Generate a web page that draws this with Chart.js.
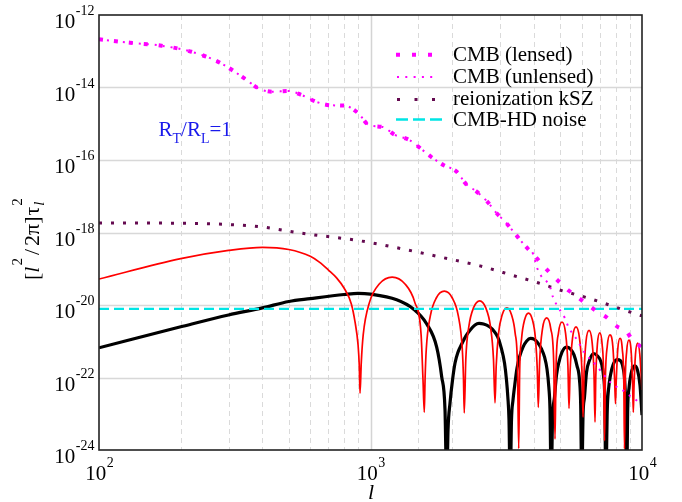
<!DOCTYPE html>
<html>
<head>
<meta charset="utf-8">
<script src="https://cdn.jsdelivr.net/npm/chart.js@4.4.0/dist/chart.umd.min.js"></script>
<style>
  html, body { margin: 0; padding: 0; background: #fff; }
  #wrap { width: 682px; height: 502px; }
</style>
</head>
<body>
<div id="wrap"><canvas id="chart" width="682" height="502"></canvas></div>
<script>
// values: multipole l and [l^2/2pi] tau_l^2

const lensedL = [100, 130, 170, 219, 279, 347, 386, 436, 498, 558, 630, 714, 806, 902, 987, 1112, 1231, 1390, 1522, 1670, 1854, 2078, 2247, 2461, 2693, 2916, 3156, 3415, 3686, 3978, 4282, 4621, 4989, 5398, 5861, 6342, 6844, 7350, 7775, 8178, 8658, 9240, 9830, 10000]
const lensedV = [2.14e-13, 1.72e-13, 1.42e-13, 9.7e-14, 4.83e-14, 1.68e-14, 9.5e-15, 7.66e-15, 8.0e-15, 6.2e-15, 4.06e-15, 3.23e-15, 3.15e-15, 1.94e-15, 9.2e-16, 8.1e-16, 4.9e-16, 3.56e-16, 2.14e-16, 1.23e-16, 7.3e-17, 4.75e-17, 2.18e-17, 1.34e-17, 7.1e-18, 3.39e-18, 1.86e-18, 9.1e-19, 4.52e-19, 2.5e-19, 1.33e-19, 7.2e-20, 4.12e-20, 2.43e-20, 1.53e-20, 1.0e-20, 6.5e-21, 4.75e-21, 3.25e-21, 2.43e-21, 2.04e-21, 1.08e-21, 7.4e-22, 6.5e-22]

const unlensedL = [100, 130, 170, 219, 279, 347, 386, 436, 498, 558, 630, 714, 806, 902, 987, 1112, 1231, 1390, 1522, 1670, 1854, 2078, 2247, 2461, 2693, 2916, 3156, 3415, 3686, 3978, 4094, 4246, 4582, 4694, 4852, 5204, 5352, 5748, 6166, 6769, 7244, 7841, 8298, 9162, 10000]
const unlensedV = [2.14e-13, 1.72e-13, 1.42e-13, 9.7e-14, 4.83e-14, 1.68e-14, 9.5e-15, 7.66e-15, 8.0e-15, 6.2e-15, 4.06e-15, 3.23e-15, 3.15e-15, 1.94e-15, 9.2e-16, 8.1e-16, 4.9e-16, 3.56e-16, 2.14e-16, 1.23e-16, 7.3e-17, 4.75e-17, 2.18e-17, 1.34e-17, 7.1e-18, 3.39e-18, 1.86e-18, 9.1e-19, 4.52e-19, 2.5e-19, 1.14e-19, 6.4e-20, 3.2e-20, 1.7e-20, 1.0e-20, 4.3e-21, 2.52e-21, 1.13e-21, 4.66e-22, 2.21e-22, 1.17e-22, 6.2e-23, 5.0e-23, 2.9e-23, 1.86e-23]

const kszL = [100, 200, 300, 400, 550, 915, 1250, 1865, 2530, 3400, 4140, 5060, 6250, 7580, 9210, 10000]
const kszV = [1.83e-18, 1.8e-18, 1.66e-18, 1.42e-18, 9.7e-19, 5.9e-19, 3.8e-19, 2.0e-19, 1.2e-19, 6.3e-20, 4.1e-20, 2.5e-20, 1.6e-20, 1.0e-20, 6.1e-21, 5.0e-21]

const noiseL = [100, 10000]
const noiseV = [7.8e-21, 7.8e-21]

// thin red curve
const redL = [100, 200, 300, 400, 500, 600, 650, 700, 750, 800, 850, 877, 900, 909, 915,
  925, 940, 992, 1077, 1202, 1340, 1455, 1536, 1561, 1578,
  1589, 1605, 1661, 1747, 1870, 2001, 2106, 2178, 2200, 2215,
  2244, 2304, 2395, 2525, 2659, 2765, 2838, 2875,
  2904, 2964, 3053, 3180, 3309, 3409, 3478, 3515,
  3544, 3602, 3695, 3819, 3948, 4050, 4116, 4150,
  4197, 4300, 4457, 4614, 4729, 4782,
  4826, 4925, 5074, 5227, 5335, 5384,
  5435, 5546, 5714, 5886, 6008, 6065,
  6117, 6221, 6381, 6544, 6656, 6713,
  6758, 6851, 6992, 7129, 7228, 7277,
  7330, 7449, 7620, 7806, 7926, 7987,
  8035, 8145, 8298, 8460, 8570, 8620,
  8672, 8783, 8947, 9119, 9234, 9290,
  9344, 9463, 9643, 9815, 10000]
const redV = [5.2e-20, 1.9e-19, 3.2e-19, 3.9e-19, 3.4e-19, 2.2e-19, 1.5e-19, 9.2e-20, 5.6e-20, 2.9e-20, 1.07e-20, 3.4e-21, 7.9e-22, 2.2e-22, 3.7e-23,
  2.7e-22, 1.5e-21, 1.2e-20, 3.8e-20, 5.9e-20, 3.8e-20, 1.2e-20, 1.5e-21, 8.5e-23, 1.1e-23,
  9.7e-23, 6.1e-22, 5.0e-21, 1.56e-20, 2.4e-20, 1.56e-20, 5.0e-21, 6.1e-22, 9.7e-23, 1.05e-23,
  3.2e-22, 2.6e-21, 8.3e-21, 1.3e-20, 8.3e-21, 2.6e-21, 3.2e-22, 2.0e-23,
  2.1e-22, 1.7e-21, 5.3e-21, 8.3e-21, 5.3e-21, 1.7e-21, 2.1e-22, 1.1e-24,
  1.5e-22, 1.2e-21, 3.9e-21, 6.0e-21, 3.9e-21, 1.2e-21, 1.5e-22, 1.5e-23,
  2.7e-22, 2.2e-21, 4.4e-21, 2.2e-21, 2.7e-22, 2.0e-24,
  2.1e-22, 1.7e-21, 3.4e-21, 1.7e-21, 2.1e-22, 1.4e-23,
  1.5e-22, 1.2e-21, 2.5e-21, 1.2e-21, 1.5e-22, 8.1e-24,
  1.25e-22, 1.0e-21, 2.0e-21, 1.0e-21, 1.25e-22, 5.9e-24,
  1.03e-22, 8.4e-22, 1.7e-21, 8.4e-22, 1.03e-22, 1.8e-24,
  9.1e-23, 7.4e-22, 1.5e-21, 7.4e-22, 9.1e-23, 1.9e-23,
  7.5e-23, 6.1e-22, 1.2e-21, 6.1e-22, 7.5e-23, 1.07e-24,
  6.6e-23, 5.4e-22, 1.08e-21, 5.4e-22, 6.6e-23, 1.1e-23,
  5.5e-23, 4.4e-22, 8.9e-22, 4.4e-22, 4.5e-23]

// thick black curve (zeros fall below the axis)
const blackL = [100, 200, 300, 400, 500, 600, 800, 900, 1000, 1249, 1438, 1611, 1753, 1829, 1881, 1909,
  1930, 1963, 2005, 2048, 2100, 2168, 2247, 2325, 2426, 2510, 2608, 2744, 2851, 2944, 3025, 3116, 3169, 3205, 3237, 3270,
  3306, 3349, 3392, 3464, 3538, 3645, 3755, 3885, 4018, 4139, 4265, 4374, 4468, 4537, 4583, 4630,
  4681, 4762, 4843, 4947, 5074, 5258, 5453, 5618, 5763, 5886, 5946, 6000,
  6065, 6142, 6247, 6407, 6629, 6858, 7063, 7215, 7295, 7357,
  7449, 7524, 7656, 7820, 8090, 8333, 8511, 8641, 8715, 8783,
  8857, 8956, 9110, 9384, 9625, 9831, 10000]
const blackV = [6.6e-22, 2.5e-21, 5.3e-21, 8.3e-21, 1.25e-20, 1.5e-20, 1.95e-20, 2.1e-20, 2.0e-20, 1.4e-20, 7.8e-21, 3.0e-21, 6.9e-22, 1.05e-22, 1.3e-23, 1e-25,
  3.6e-24, 2.0e-23, 8.5e-23, 2.5e-22, 5.0e-22, 8.4e-22, 1.4e-21, 2.0e-21, 2.8e-21, 3.1e-21, 3.0e-21, 2.5e-21, 1.9e-21, 1.3e-21, 6.9e-22, 2.5e-22, 8.5e-23, 2.9e-23, 6.7e-24, 1e-25,
  6.7e-24, 2.4e-23, 5.5e-23, 1.8e-22, 3.7e-22, 6.9e-22, 1.0e-21, 1.2e-21, 1.12e-21, 8.9e-22, 6.1e-22, 3.7e-22, 1.7e-22, 5.5e-23, 1.3e-23, 1e-25,
  6.7e-24, 2.9e-23, 1.17e-22, 2.7e-22, 5.0e-22, 6.9e-22, 6.1e-22, 4.2e-22, 2.1e-22, 8.5e-23, 1.7e-23, 1e-25,
  9.2e-24, 2.9e-23, 1.4e-22, 3.0e-22, 4.6e-22, 3.9e-22, 2.7e-22, 1.1e-22, 2.4e-23, 1e-25,
  1.3e-23, 4.5e-23, 1.17e-22, 2.2e-22, 3.1e-22, 2.9e-22, 1.9e-22, 7.5e-23, 1.3e-23, 1e-25,
  1.3e-23, 5.1e-23, 1.25e-22, 2.1e-22, 1.6e-22, 6.2e-23, 9.2e-24]

// tick labels are powers of ten
const xExponents = [2, 3, 4]
const yExponents = [-12, -14, -16, -18, -20, -22, -24]

const serif = "'Liberation Serif', 'DejaVu Serif', serif"

function pts(ls, vs) {
  return ls.map((l, i) => ({ x: l, y: vs[i] }))
}

// legend sample strokes (x0, x1 in px), text starts at 453
const legendRows = [
  { ds: 0, y: 54.7, x0: 396, x1: 432, dash: [4, 12], w: 4, baseline: 60.7 },
  { ds: 1, y: 77, x0: 397, x1: 434, dash: [2, 6.3], w: 2, baseline: 82.6 },
  { ds: 2, y: 99.5, x0: 397, x1: 436, dash: [3, 14.5], w: 3, baseline: 104.5 },
  { ds: 3, y: 119.5, x0: 396, x1: 444, dash: [12, 5], w: 2.5, baseline: 126 }
]

function supLabel(ctx, base, exp, x, y, align) {
  ctx.font = '21px ' + serif
  const wb = ctx.measureText(base).width
  ctx.font = '14px ' + serif
  const we = ctx.measureText(exp).width
  let left
  if (align === 'right') left = x - wb - we - 0.5
  else left = x - (wb + we + 0.5) / 2 + 0.5
  ctx.font = '21px ' + serif
  ctx.fillText(base, left, y)
  ctx.font = '14px ' + serif
  ctx.fillText(exp, left + wb + 0.5, y - 13)
}

const decorations = {
  id: 'decorations',
  beforeDatasetsDraw(chart) {
    const { ctx, chartArea: a, scales: { x, y } } = chart
    ctx.save()
    ctx.lineWidth = 1
    x.ticks.forEach(t => {
      const lg = Math.log10(t.value)
      const major = Math.abs(lg - Math.round(lg)) < 1e-6
      const px = Math.round(x.getPixelForValue(t.value)) + 0.5
      if (px <= a.left + 1 || px >= a.right - 1) return
      ctx.strokeStyle = major ? '#d4d4d4' : '#dadada'
      ctx.lineWidth = major ? 1.5 : 1
      ctx.setLineDash(major ? [] : [5, 4])
      ctx.beginPath()
      ctx.moveTo(px, a.top)
      ctx.lineTo(px, a.bottom)
      ctx.stroke()
    })
    ctx.setLineDash([])
    ctx.strokeStyle = '#d8d8d8'
    ctx.lineWidth = 1.5
    yExponents.forEach(e => {
      const py = Math.round(y.getPixelForValue(Math.pow(10, e))) + 0.5
      if (py <= a.top + 1 || py >= a.bottom - 1) return
      ctx.beginPath()
      ctx.moveTo(a.left, py)
      ctx.lineTo(a.right, py)
      ctx.stroke()
    })
    ctx.restore()
  },
  afterDatasetsDraw(chart) {
    const { ctx, chartArea: a } = chart
    ctx.save()
    ctx.strokeStyle = '#222'
    ctx.lineWidth = 1.6
    ctx.strokeRect(a.left, a.top, a.right - a.left, a.bottom - a.top)
    ctx.restore()
  },
  afterDraw(chart) {
    const { ctx, scales: { x, y } } = chart
    ctx.save()
    ctx.fillStyle = '#000'
    ctx.textBaseline = 'alphabetic'
    ctx.textAlign = 'left'

    // tick labels
    xExponents.forEach(e => {
      const px = x.getPixelForValue(Math.pow(10, e))
      supLabel(ctx, '10', String(e), px, 480, 'center')
    })
    yExponents.forEach(e => {
      const py = y.getPixelForValue(Math.pow(10, e))
      supLabel(ctx, '10', String(e), 94.5, py + 13, 'right')
    })

    // x title
    ctx.font = 'italic 22px ' + serif
    ctx.fillText('l', 368, 499)

    // y title, rotated
    ctx.save()
    ctx.translate(39, 280)
    ctx.rotate(-Math.PI / 2)
    let cx = 0
    const put = (txt, font, dy, gap) => {
      ctx.font = font
      ctx.fillText(txt, cx, dy)
      cx += ctx.measureText(txt).width + (gap || 0)
    }
    put('[', '22px ' + serif, 0)
    put('l', 'italic 22px ' + serif, 0, 1)
    put('2', '15px ' + serif, -17, 3)
    put('/', '22px ' + serif, 0, 3)
    put('2π]', '22px ' + serif, 0, 1)
    put('τ', '22px ' + serif, 0, 1)
    const sx = cx
    put('l', 'italic 15px ' + serif, 5)
    cx = sx
    put('2', '15px ' + serif, -17)
    ctx.restore()

    // R_T/R_L = 1
    ctx.fillStyle = 'rgb(25, 25, 235)'
    let ax = 158.5
    const ann = (txt, size, dy) => {
      ctx.font = size + 'px ' + serif
      ctx.fillText(txt, ax, 136 + dy)
      ax += ctx.measureText(txt).width
    }
    ann('R', 21, 0)
    ann('T', 14, 7)
    ann('/R', 21, 0)
    ann('L', 14, 7)
    ann('=1', 21, 0)

    // legend
    legendRows.forEach(r => {
      const ds = chart.data.datasets[r.ds]
      ctx.strokeStyle = ds.borderColor
      ctx.lineWidth = r.w
      ctx.lineCap = 'butt'
      ctx.setLineDash(r.dash)
      ctx.beginPath()
      ctx.moveTo(r.x0, r.y)
      ctx.lineTo(r.x1, r.y)
      ctx.stroke()
      ctx.setLineDash([])
      ctx.fillStyle = '#000'
      ctx.font = '21px ' + serif
      ctx.fillText(ds.label, 453, r.baseline)
    })
    ctx.restore()
  }
}

const chart = new Chart(document.getElementById('chart'), {
  type: 'line',
  data: {
    datasets: [
      { label: 'CMB (lensed)', data: pts(lensedL, lensedV), borderColor: '#ff00ff', borderWidth: 4, borderDash: [4, 11] },
      { label: 'CMB (unlensed)', data: pts(unlensedL, unlensedV), borderColor: '#ff00ff', borderWidth: 2, borderDash: [2, 6] },
      { label: 'reionization kSZ', data: pts(kszL, kszV), borderColor: '#640a50', borderWidth: 3, borderDash: [3, 9] },
      { label: 'CMB-HD noise', data: pts(noiseL, noiseV), borderColor: '#00e5e5', borderWidth: 2.2, borderDash: [10, 5] },
      { label: 'R_T/R_L=1 (red)', data: pts(redL, redV), borderColor: '#ff0000', borderWidth: 1.7 },
      { label: 'R_T/R_L=1 (black)', data: pts(blackL, blackV), borderColor: '#000000', borderWidth: 3.2 }
    ]
  },
  options: {
    responsive: false,
    animation: false,
    layout: { padding: { left: 99, right: 40, top: 15, bottom: 52 } },
    elements: {
      point: { radius: 0, hoverRadius: 0 },
      line: { fill: false, tension: 0, cubicInterpolationMode: 'monotone', borderCapStyle: 'butt' }
    },
    plugins: {
      legend: { display: false },
      tooltip: { enabled: false }
    },
    scales: {
      x: {
        type: 'logarithmic',
        min: 100,
        max: 10000,
        display: false,
        ticks: { autoSkip: false }
      },
      y: {
        type: 'logarithmic',
        min: 1e-24,
        max: 1e-12,
        display: false,
        ticks: { autoSkip: false }
      }
    }
  },
  plugins: [decorations]
})
</script>
</body>
</html>
